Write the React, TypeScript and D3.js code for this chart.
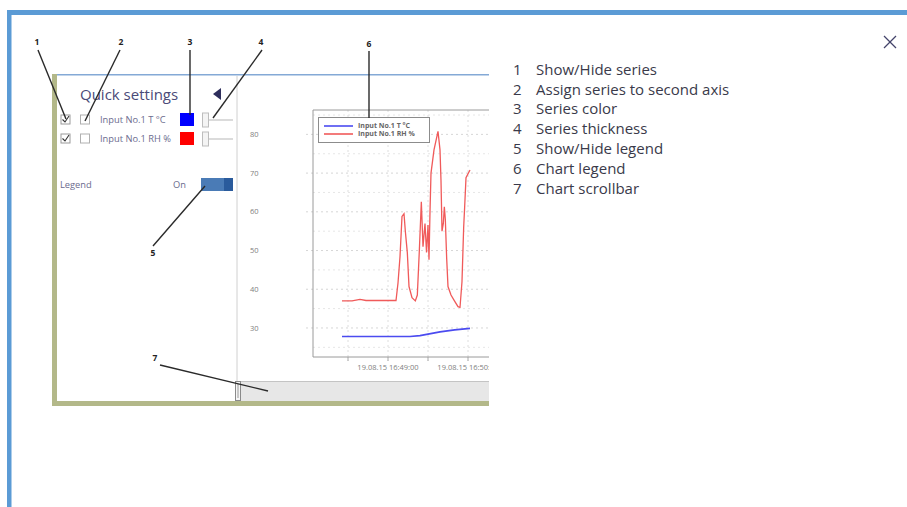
import React from "react";
import * as d3 from "d3";

// ---- data (seconds after 16:48:00 on 19.08.15) ----
const RED_T = [25.5, 33, 39, 43.5, 66, 67.5, 69, 70.5, 72, 73, 74.5, 75.75, 78, 80.5, 82, 83.5, 85, 86.25, 87.75, 88.9, 90, 90.75, 91.5, 92.25, 94.5, 97.5, 99, 99.75, 100.5, 101.5, 102.25, 103, 104, 105, 107.25, 109.5, 112.5, 114, 115.5, 116.75, 117.5, 118.5, 121.5];
const RED_V = [37.0, 37.0, 37.4, 37.1, 37.1, 41.6, 48.4, 58.8, 59.5, 55, 49.4, 40.7, 37.8, 37.0, 38.5, 50, 62.6, 51, 57, 49.5, 56.6, 47.6, 60, 70, 76, 80.8, 76, 68, 55, 57, 61.3, 58, 48, 40.7, 38.5, 37.2, 35.5, 35.3, 42, 56, 61.3, 68.8, 70.8];
const BLUE_T = [25.5, 76.5, 84, 90, 99, 110, 121.5];
const BLUE_V = [27.8, 27.8, 28.0, 28.4, 29.0, 29.5, 29.9];

const SERIES_NAMES = ["Input No.1 T °C", "Input No.1 RH %"];
const SERIES_COLORS = ["#4b4bf0", "#f05a5a"];
const Y_TICKS = [30, 40, 50, 60, 70, 80];
const Y_MINOR = [25, 35, 45, 55, 65, 75, 85];
const X_MAJOR = ["16:49:00", "16:50:00"];
const X_MINOR = ["16:48:30", "16:49:30", "16:50:30"];
const DATE_PREFIX = "19.08.15 ";
const LEGEND_ITEMS = ["Show/Hide series", "Assign series to second axis", "Series color", "Series thickness", "Show/Hide legend", "Chart legend", "Chart scrollbar"];

const base = new Date(2015, 7, 19, 16, 48, 0);
const toDate = (s: number) => new Date(base.getTime() + s * 1000);
const parseT = d3.timeParse("%H:%M:%S");
const atTime = (str: string) => {
  const p = parseT(str)!;
  return new Date(2015, 7, 19, p.getHours(), p.getMinutes(), p.getSeconds());
};

export default function App() {
  const x = d3.scaleTime().domain([toDate(3.75), toDate(189.75)]).range([313, 561]);
  const y = d3.scaleLinear().domain([22.5, 86.3]).range([357, 110]);
  const line = d3.line<[number, number]>().x(d => x(toDate(d[0]))).y(d => y(d[1])).curve(d3.curveLinear);
  const red = RED_T.map((t, i) => [t, RED_V[i]] as [number, number]);
  const blue = BLUE_T.map((t, i) => [t, BLUE_V[i]] as [number, number]);
  const ui = "'Open Sans', 'Noto Sans', sans-serif";
  const uiText = "#6b6b8e";
  const num = { fontFamily: ui, fontSize: 8.5, fontWeight: 700, fill: "#222" } as const;
  const lead = { stroke: "#2a2a2a", strokeWidth: 1.4 } as const;
  return (
    <svg width={907} height={507} style={{ position: "absolute", left: 0, top: 0, background: "#fff" }}>
      <defs>
        <clipPath id="shot"><rect x={57} y={75} width={432} height={326} /></clipPath>
        <clipPath id="chart"><rect x={238} y={76} width={251} height={305} /></clipPath>
      </defs>
      {/* outer frame */}
      <rect x={7} y={10} width={900} height={5} fill="#5b9bd5" />
      <rect x={7} y={10} width={4.5} height={497} fill="#5b9bd5" />
      {/* close */}
      <g stroke="#44446a" strokeWidth={1.3}>
        <line x1={884} y1={36} x2={896} y2={48} />
        <line x1={896} y1={36} x2={884} y2={48} />
      </g>
      {/* right list */}
      {LEGEND_ITEMS.map((t, i) => (
        <g key={t} fontFamily={ui} fontSize={15} fill="#3a3a4a">
          <text x={513} y={69.5 + i * 19.8} dy="0.35em">{i + 1}</text>
          <text x={536} y={69.5 + i * 19.8} dy="0.35em">{t}</text>
        </g>
      ))}
      {/* screenshot */}
      <rect x={52} y={74} width={437} height={332} fill="#fff" />
      <rect x={52} y={74} width={5} height={332} fill="#b3b889" />
      <rect x={52} y={401} width={437} height={5} fill="#b3b889" />
      <rect x={57} y={74} width={432} height={1.5} fill="#84a9d6" />
      <g clipPath="url(#shot)">
        <line x1={237} y1={76} x2={237} y2={381} stroke="#d0d0d0" />
        <text x={80} y={95} dy="0.35em" fontFamily={ui} fontSize={15} fill="#4a4a78">Quick settings</text>
        <path d="M221,88 L213,94 L221,100 Z" fill="#2e2e5c" />
        {SERIES_NAMES.map((n, i) => {
          const cy = 120 + i * 19;
          return (
            <g key={n}>
              <rect x={61} y={cy - 5} width={9} height={9} fill="#fff" stroke="#9a9a9a" />
              <path d={`M62.5,${cy - 0.5} L65,${cy + 2} L69,${cy - 4}`} fill="none" stroke="#333" strokeWidth={1.1} />
              <rect x={80.5} y={cy - 5} width={9} height={9} fill="#fff" stroke="#b0b0b0" />
              <text x={100} y={cy} dy="0.35em" fontFamily={ui} fontSize={9.3} fill={uiText}>{n}</text>
              <rect x={180} y={cy - 7} width={14} height={13} fill={i === 0 ? "#0000ff" : "#ff0000"} />
              <line x1={208} y1={cy} x2={233} y2={cy} stroke="#cfcfcf" strokeWidth={1.5} />
              <rect x={202.5} y={cy - 7} width={6} height={14} fill="#f4f4f4" stroke="#bdbdbd" />
            </g>
          );
        })}
        <text x={60} y={185} dy="0.35em" fontFamily={ui} fontSize={9.3} fill={uiText}>Legend</text>
        <text x={173} y={185} dy="0.35em" fontFamily={ui} fontSize={9.3} fill={uiText}>On</text>
        <rect x={201} y={178} width={32} height={13} fill="#4a7bb6" />
        <rect x={224} y={178} width={9} height={13} fill="#2a5b9c" />
        {/* scrollbar */}
        <rect x={237} y={381} width={252} height={20} fill="#e7e7e7" />
        <line x1={237} y1={381.5} x2={489} y2={381.5} stroke="#c4c4c4" />
        <rect x={235.5} y={381.5} width={5} height={19} fill="#f6f6f6" stroke="#8a8a8a" />
        <line x1={238} y1={384} x2={238} y2={398} stroke="#9a9a9a" />
        {/* chart */}
        <g clipPath="url(#chart)">
          {Y_MINOR.map(v => (
            <line key={"m" + v} x1={313} x2={561} y1={y(v)} y2={y(v)} stroke="#e6e6e6" strokeDasharray="2,3" />
          ))}
          {Y_TICKS.map(v => (
            <line key={v} x1={306} x2={561} y1={y(v)} y2={y(v)} stroke="#d6d6d6" strokeDasharray="2,3" />
          ))}
          {[...X_MAJOR, ...X_MINOR].map(t => (
            <line key={t} x1={x(atTime(t))} x2={x(atTime(t))} y1={110} y2={361} stroke="#dedede" strokeDasharray="2,3" />
          ))}
          {[...X_MAJOR, ...X_MINOR].map(t => (
            <line key={"k" + t} x1={x(atTime(t))} x2={x(atTime(t))} y1={357} y2={361} stroke="#aaa" />
          ))}
          <path d={`M313,110 L561,110 M313,110 L313,357 L561,357`} fill="none" stroke="#9a9a9a" />
          {Y_TICKS.map(v => (
            <text key={"t" + v} x={250} y={y(v)} dy="0.35em" fontFamily={ui} fontSize={7.5} fill="#808080">{v}</text>
          ))}
          {X_MAJOR.map(t => (
            <text key={"x" + t} x={x(atTime(t))} y={367} dy="0.35em" textAnchor="middle" fontFamily={ui} fontSize={7.5} fill="#808080">{DATE_PREFIX + t}</text>
          ))}
          <path d={line(blue)!} fill="none" stroke={SERIES_COLORS[0]} strokeWidth={1.7} />
          <path d={line(red)!} fill="none" stroke={SERIES_COLORS[1]} strokeWidth={1.3} />
          <rect x={318.5} y={117.5} width={111} height={25} fill="#fff" stroke="#8c8c8c" />
          {SERIES_NAMES.map((n, i) => (
            <g key={"l" + n}>
              <line x1={324} x2={353} y1={126 + i * 8} y2={126 + i * 8} stroke={SERIES_COLORS[i]} strokeWidth={1.6} />
              <text x={358} y={126 + i * 8} dy="0.35em" fontFamily={ui} fontSize={7} fontWeight={700} fill="#666">{n}</text>
            </g>
          ))}
        </g>
      </g>
      {/* annotations */}
      <text x={37} y={42} textAnchor="middle" dy="0.35em" {...num}>1</text>
      <text x={121} y={42} textAnchor="middle" dy="0.35em" {...num}>2</text>
      <text x={190} y={42} textAnchor="middle" dy="0.35em" {...num}>3</text>
      <text x={261} y={42} textAnchor="middle" dy="0.35em" {...num}>4</text>
      <text x={369} y={44} textAnchor="middle" dy="0.35em" {...num}>6</text>
      <text x={153} y={253} textAnchor="middle" dy="0.35em" {...num}>5</text>
      <text x={155} y={358} textAnchor="middle" dy="0.35em" {...num}>7</text>
      <line x1={38} y1={50} x2={66} y2={119} {...lead} />
      <line x1={120} y1={50} x2={85} y2={121} {...lead} />
      <line x1={190} y1={50} x2={190} y2={115} {...lead} />
      <line x1={262} y1={50} x2={213} y2={118} {...lead} />
      <line x1={153} y1={246} x2={205} y2={186} {...lead} />
      <line x1={369} y1={51} x2={369} y2={118} {...lead} />
      <line x1={160} y1={365} x2={268} y2={391} {...lead} />
    </svg>
  );
}
